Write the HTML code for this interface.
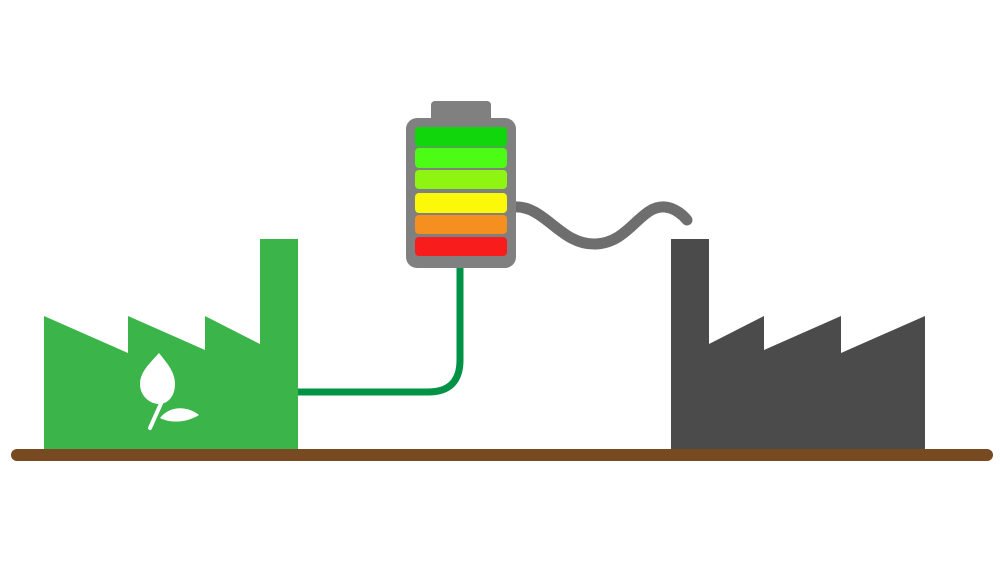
<!DOCTYPE html>
<html><head><style>html,body{margin:0;padding:0;background:#fff;}svg{display:block}</style></head>
<body>
<svg width="1000" height="562" viewBox="0 0 1000 562" xmlns="http://www.w3.org/2000/svg">
<rect width="1000" height="562" fill="#fff"/>
<!-- green cable -->
<path d="M460 262 L460 360 Q460 392 428 392 L296 392" fill="none" stroke="#009245" stroke-width="7"/>
<!-- gray cable -->
<path d="M514 207 C545 205 560 245 595 244 C630 243 640 205 665 207 C675 208 683 215 687 220" fill="none" stroke="#6e6e6e" stroke-width="11" stroke-linecap="round"/>
<!-- battery -->
<rect x="431" y="101" width="60" height="24" rx="4" fill="#808080"/>
<rect x="406" y="118" width="110" height="150" rx="11" fill="#808080"/>
<rect x="415" y="127" width="92" height="20" rx="4" fill="#11d60b"/>
<rect x="415" y="148" width="92" height="20" rx="4" fill="#4cfc14"/>
<rect x="415" y="170" width="92" height="19" rx="4" fill="#8ef512"/>
<rect x="415" y="193" width="92" height="20" rx="4" fill="#fcf80a"/>
<rect x="415" y="215" width="92" height="19" rx="4" fill="#f59020"/>
<rect x="415" y="237" width="92" height="19" rx="4" fill="#f91c1c"/>
<!-- green factory -->
<path d="M44 316 L128 353 L128 316 L205 350 L205 316 L260 344 L260 239 L298 239 L298 450 L44 450 Z" fill="#3bb44a"/>
<!-- leaf -->
<path d="M159 353 C150 363 140 372 140 384 C140 396 150 404 159 404 C168 404 175 396 175 384 C175 372 167 363 159 353 Z" fill="#fff"/>
<path d="M150 428 L163 399" stroke="#fff" stroke-width="4" stroke-linecap="round"/>
<path d="M160 418 C170 405 188 406 199 415 C188 422 172 424 160 418 Z" fill="#fff"/>
<!-- dark factory -->
<path d="M671 239 L709 239 L709 344 L764 316 L764 350 L841 316 L841 353 L925 316 L925 450 L671 450 Z" fill="#4b4b4b"/>
<!-- ground -->
<line x1="17" y1="455" x2="987" y2="455" stroke="#784a22" stroke-width="12" stroke-linecap="round"/>
</svg>
</body></html>
